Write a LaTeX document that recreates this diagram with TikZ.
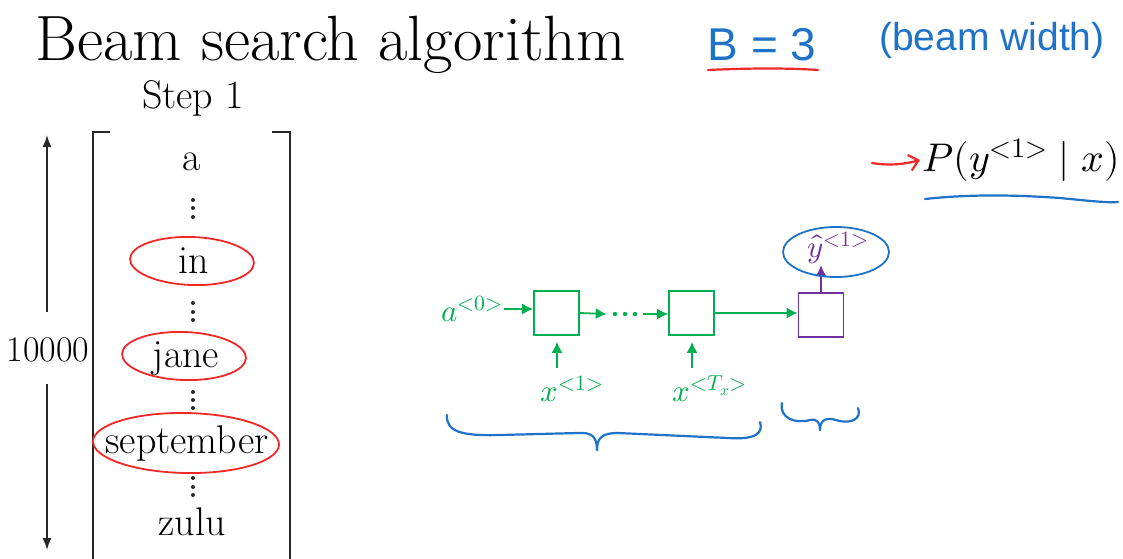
\documentclass[tikz,border=0pt]{standalone}
\usepackage{fontspec}
\usepackage{unicode-math}
\setmathfont{Latin Modern Math}
\newfontfamily\handfont{Liberation Sans}
\usetikzlibrary{arrows.meta,shapes.geometric}
\definecolor{rnngreen}{RGB}{0,176,80}
\definecolor{rnnpurple}{RGB}{112,48,160}
\definecolor{penblue}{RGB}{30,115,200}
\definecolor{penred}{RGB}{240,40,40}
\definecolor{inkgray}{RGB}{40,40,40}
\tikzset{
  wordtext/.style={font=\fontsize{40}{44}\selectfont, anchor=base, inner sep=0pt},
  redring/.style={ellipse, draw=penred, line width=1.8pt, inner sep=0pt},
  bigarrow/.style={draw=inkgray, line width=1.6pt, -{Latex[length=12pt,width=9pt]}},
  bracket/.style={draw=inkgray, line width=1.8pt},
  cell/.style={draw=rnngreen, line width=1.6pt, minimum width=45pt, minimum height=44pt, inner sep=0pt},
  garrow/.style={draw=rnngreen, line width=1.8pt, -{Latex[length=11pt,width=11pt]}},
  parrow/.style={draw=rnnpurple, line width=1.8pt, -{Latex[length=11pt,width=11pt]}},
  rnnlabel/.style={font=\fontsize{31}{33}\selectfont},
  pen/.style={draw=penblue, line width=2.2pt, line cap=round, line join=round},
  redpen/.style={draw=penred, line width=2.2pt, line cap=round},
}
\begin{document}
\begin{tikzpicture}[x=1pt,y=-1pt]
\useasboundingbox[fill=white] (0,0) rectangle (1123,558);

% title
\node[font=\fontsize{64}{68}\selectfont, anchor=base west, inner sep=0pt] (title) at (35,60) {Beam search algorithm};
\node[wordtext] (step) at (193,108) {Step 1};

% handwritten
\node[text=penblue, font=\handfont\fontsize{46}{50}\selectfont, inner sep=0pt] (B) at (762,45) {B = 3};
\draw[redpen] (708,70) .. controls (750,68) and (790,68) .. (818,70);
\node[text=penblue, font=\handfont\fontsize{39}{42}\selectfont, inner sep=0pt] (bw) at (992,40) {(beam width)};

% bracket
\draw[bracket] (110,132) -- (93,132) -- (93,562);
\draw[bracket] (272,132) -- (290,132) -- (290,562);

% vocabulary
\node[wordtext] (wa) at (192,170) {a};
\node[wordtext] (win) at (194,273) {in};
\node[wordtext] (wjane) at (186,367) {jane};
\node[wordtext] (wsep) at (187,453) {september};
\node[wordtext] (wzulu) at (192,535) {zulu};
\foreach \y in {200,208,217, 303,312,320, 392,400,408, 478,487,495}
  \fill[inkgray] (193,\y) circle (2pt);

% red rings
\node[redring, minimum width=124pt, minimum height=48pt, rotate=-2] (r1) at (192,261) {};
\node[redring, minimum width=124pt, minimum height=48pt, rotate=-2] (r2) at (184,356) {};
\node[redring, minimum width=186pt, minimum height=60pt, rotate=-1] (r3) at (186,443) {};

% 10000 arrow
\node[font=\fontsize{36}{38}\selectfont, inner sep=0pt] (ten) at (48,350) {10000};
\coordinate (ltop) at (47,135);
\coordinate (lbot) at (47,550);
\coordinate (lm1) at (47,312);
\coordinate (lm2) at (47,384);
\draw[bigarrow] (lm1) -- (ltop);
\draw[bigarrow] (lm2) -- (lbot);

% P(y|x)
\coordinate (ra) at (872,163);
\node[anchor=west, font=\fontsize{40}{44}\selectfont, inner sep=2pt] (P) at (920,160) {$P(y^{<1>}\mid x)$};
\draw[redpen, -{Straight Barb[length=9pt,width=16pt]}] (ra) .. controls (890,166) and (905,164) .. (P.west);
\draw[pen] (925,199) .. controls (980,193) and (1030,196) .. (1060,198) .. controls (1090,201) and (1110,203) .. (1118,202);

% RNN
\node[rnnlabel, text=rnngreen, inner sep=1pt] (a0) at (472,309) {$a^{<0>}$};
\node[cell] (c1) at (556.5,313) {};
\node[minimum width=36pt, minimum height=6pt, inner sep=0pt] (dd) at (625,314) {};
\foreach \x in {615,625,635} \fill[rnngreen] (\x,314) circle (2.2pt);
\node[cell] (c2) at (691.5,313) {};
\node[cell, draw=rnnpurple] (c3) at (821,315) {};
\draw[garrow] (a0.east) -- (a0.east -| c1.west);
\draw[garrow] (c1.east) -- (dd.west);
\draw[garrow] (dd.east) -- (dd.east -| c2.west);
\draw[garrow] (c2.east) -- (c2.east -| c3.west);
\node[rnnlabel, text=rnngreen] (x1) at (572,389) {$x^{<1>}$};
\node[rnnlabel, text=rnngreen] (xT) at (710,389) {$x^{<T_x>}$};
\coordinate (x1t) at (557,368);
\coordinate (xTt) at (692,368);
\draw[garrow, shorten >=6pt] (x1t) -- (x1t |- c1.south);
\draw[garrow, shorten >=6pt] (xTt) -- (xTt |- c2.south);
\node[rnnlabel, text=rnnpurple, inner sep=1pt] (yh) at (838,248) {$\hat{y}^{<1>}$};
\draw[parrow] (c3.north) -- (c3.north |- yh.south);
\node[ellipse, draw=penblue, line width=1.8pt, minimum width=106pt, minimum height=50pt] (ring) at (836,252) {};

% braces
\draw[pen] (447,415) .. controls (446,432) and (462,436) .. (500,435) -- (578,433) .. controls (592,432) and (597,437) .. (597,450);
\draw[pen] (597,450) .. controls (597,437) and (603,433) .. (618,433) -- (728,438) .. controls (758,440) and (763,432) .. (760,422);
\draw[pen] (782,403) .. controls (779,418) and (795,424) .. (810,420) .. controls (818,418) and (820,424) .. (820,430);
\draw[pen] (820,430) .. controls (820,420) and (826,417) .. (836,420) .. controls (852,425) and (862,418) .. (858,408);
\end{tikzpicture}
\end{document}
